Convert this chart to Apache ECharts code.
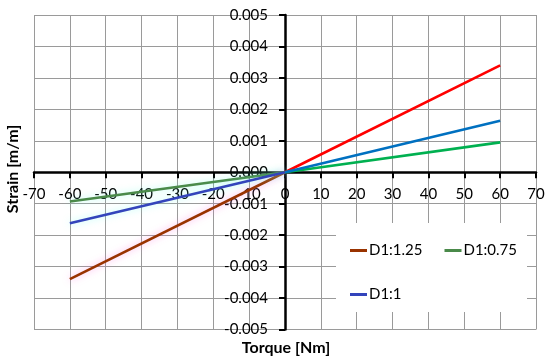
<!DOCTYPE html>
<html>
<head>
<meta charset="utf-8">
<script src="https://cdn.jsdelivr.net/npm/echarts@6/dist/echarts.min.js"></script>
<style>
html,body{margin:0;padding:0;background:#fff;}
#c{width:550px;height:362px;}
</style>
</head>
<body>
<div id="c"></div>
<script>
const torque = [-60, 0, 60];
const d125 = [-0.0034, 0, 0.0034];
const d075 = [-0.00093, 0, 0.00095];
const d1 = [-0.00162, 0, 0.00164];
const xTicks = {min: -70, max: 70, step: 10};
const yTicks = {min: -0.005, max: 0.005, step: 0.001};
const xTitle = 'Torque [Nm]';
const yTitle = 'Strain [m/m]';

const FONT = 'Lato';
const G = {left: 34, right: 14, top: 15, bottom: 32.5};
function pts(vals, from, to) {
  const out = [];
  for (let i = from; i <= to; i++) out.push([torque[i], vals[i]]);
  return out;
}
function seg(name, vals, half, color, glow) {
  const s = {
    name: name, type: 'line', showSymbol: false, symbol: 'none',
    data: half === 'L' ? pts(vals, 0, 1) : pts(vals, 1, 2),
    itemStyle: {color: color},
    lineStyle: {color: color, width: 2.6},
    z: half === 'L' ? 3 : 4,
    animation: false
  };
  if (glow) { s.lineStyle.shadowColor = glow; s.lineStyle.shadowBlur = 7; }
  return s;
}
const chart = echarts.init(document.getElementById('c'));
const axisCommon = {
  axisLine: {onZero: false, lineStyle: {color: '#000', width: 2.5}},
  axisTick: {show: true, inside: false, length: 6, lineStyle: {color: '#000', width: 2}},
  splitLine: {show: true, lineStyle: {color: '#9a9a9a', width: 1}}
};
chart.setOption({
  animation: false,
  backgroundColor: '#fff',
  textStyle: {fontFamily: FONT},
  grid: {left: G.left, right: G.right, top: G.top, bottom: G.bottom, containLabel: false, outerBoundsMode: 'none'},
  xAxis: Object.assign({
    type: 'value', position: 'bottom', min: xTicks.min, max: xTicks.max, interval: xTicks.step,
    axisLabel: {color: '#000', fontSize: 15, fontFamily: FONT, margin: 14}
  }, axisCommon),
  yAxis: Object.assign({
    type: 'value', position: 'left', min: yTicks.min, max: yTicks.max, interval: yTicks.step,
    axisLabel: {color: '#000', fontSize: 15, fontFamily: FONT, margin: 17,
      formatter: v => v.toFixed(3)}
  }, axisCommon),
  legend: [
    {data: ['D1:1.25', 'D1:0.75'], left: 345, top: 238, icon: 'rect', itemWidth: 17, itemHeight: 3,
     itemGap: 22, textStyle: {color: '#000', fontSize: 15, fontFamily: FONT, padding: [0,0,0,-3]}, selectedMode: false},
    {data: ['D1:1'], left: 345, top: 282, icon: 'rect', itemWidth: 17, itemHeight: 3,
     textStyle: {color: '#000', fontSize: 15, fontFamily: FONT, padding: [0,0,0,-3]}, selectedMode: false}
  ],
  graphic: [
    {type: 'rect', left: 336, top: 223, shape: {width: 191, height: 89}, style: {fill: '#fff'}, z: 3},
    {type: 'text', x: 13, y: 169, rotation: Math.PI / 2, z: 10,
     style: {text: yTitle, font: 'bold 16px ' + FONT, fill: '#000', align: 'center', verticalAlign: 'middle'}},
    {type: 'text', x: 286, y: 348, z: 10,
     style: {text: xTitle, font: 'bold 16px ' + FONT, fill: '#000', align: 'center', verticalAlign: 'middle'}}
  ],
  series: [
    seg('D1:1.25', d125, 'L', '#993300', 'rgba(255,110,220,0.55)'),
    seg('D1:1.25', d125, 'R', '#ff0000'),
    seg('D1:0.75', d075, 'L', '#4a8a4a', 'rgba(110,255,230,0.5)'),
    seg('D1:0.75', d075, 'R', '#00b050'),
    seg('D1:1', d1, 'L', '#3344bb', 'rgba(110,255,240,0.5)'),
    seg('D1:1', d1, 'R', '#0070c0')
  ]
});
// move each axis to the other axis's zero, using the library's own scales
const x0 = chart.convertToPixel({xAxisIndex: 0}, 0);
const y0 = chart.convertToPixel({yAxisIndex: 0}, 0);
const xl = chart.convertToPixel({xAxisIndex: 0}, xTicks.min);
const yb = chart.convertToPixel({yAxisIndex: 0}, yTicks.min);
chart.setOption({
  xAxis: {offset: -(yb - y0)},
  yAxis: {offset: -(x0 - xl)}
});
</script>
</body>
</html>
